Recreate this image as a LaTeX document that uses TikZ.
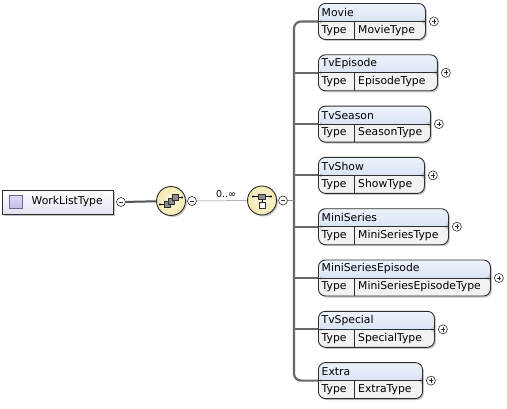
\documentclass[tikz,border=0pt]{standalone}
\usepackage{fontspec}
\setmainfont{DejaVu Sans}
\usetikzlibrary{shadows,calc}
\definecolor{hdrtop}{HTML}{EEF3FB}
\definecolor{hdrbot}{HTML}{C3D4EE}
\definecolor{typefill}{HTML}{F2F2F2}
\definecolor{edgec}{HTML}{2E2E2E}
\definecolor{barc}{HTML}{686868}
\definecolor{compout}{HTML}{F3E9AE}
\definecolor{compin}{HTML}{FCF8E2}
\definecolor{sqgrey}{HTML}{8C8C8C}
\definecolor{lavtop}{HTML}{FFFFFF}
\definecolor{lavbot}{HTML}{E6E2F2}
\definecolor{iconlav}{HTML}{C9BCE9}
\definecolor{iconedge}{HTML}{6F63A0}
\tikzset{
  elem/.style={draw=edgec, line width=0.9pt, rounded corners=7pt, inner sep=0pt,
    minimum height=36pt, anchor=west,
    drop shadow={shadow xshift=1.5pt, shadow yshift=-1.5pt, fill=black!28, opacity=0.8},
    path picture={
      \shade[top color=hdrtop,bottom color=hdrbot]
        (path picture bounding box.north west) rectangle (path picture bounding box.east);
      \fill[typefill] (path picture bounding box.west) rectangle (path picture bounding box.south east);
      \draw[edgec, line width=0.8pt] (path picture bounding box.west) -- (path picture bounding box.east);
      \draw[edgec, line width=0.8pt] ([xshift=36pt]path picture bounding box.south west) -- ([xshift=36pt]path picture bounding box.west);
    }},
  txt/.style={anchor=west, inner sep=0pt, font=\fontsize{10.8}{12}\selectfont, text=black},
  smallcirc/.style={circle, draw=edgec, line width=0.6pt, fill=white, minimum size=9pt, inner sep=0pt},
  pluscirc/.style={smallcirc, path picture={
      \draw[line width=0.6pt] ([xshift=-2.4pt]path picture bounding box.center) -- ([xshift=2.4pt]path picture bounding box.center);
      \draw[line width=0.6pt] ([yshift=-2.4pt]path picture bounding box.center) -- ([yshift=2.4pt]path picture bounding box.center);}},
  minuscirc/.style={smallcirc, path picture={
      \draw[line width=0.6pt] ([xshift=-2.4pt]path picture bounding box.center) -- ([xshift=2.4pt]path picture bounding box.center);}},
  barline/.style={draw=barc, line width=2.2pt},
  thickline/.style={draw=barc!80!black, line width=2pt},
  thinline/.style={draw=black!45, line width=0.5pt},
  comp/.style={circle, draw=edgec, line width=0.9pt, minimum size=29pt, inner sep=0pt,
    inner color=compin, outer color=compout,
    drop shadow={shadow xshift=1.5pt, shadow yshift=-1.5pt, fill=black!28, opacity=0.8}},
  sq/.style={draw=edgec, line width=0.5pt, fill=sqgrey},
  wsq/.style={draw=edgec, line width=0.5pt, fill=white},
  rootbox/.style={draw=edgec, line width=0.9pt, minimum width=111pt, minimum height=24pt, inner sep=0pt,
    top color=lavtop, bottom color=lavbot,
    drop shadow={shadow xshift=2pt, shadow yshift=-2pt, fill=black!30, opacity=0.8}},
  rooticon/.style={draw=iconedge, line width=0.6pt, minimum size=13pt, inner sep=0pt,
    top color=iconlav!60, bottom color=iconlav}
}
\newcommand\xelem[5]{%
  \node[elem, minimum width=#5pt] (#1) at (318,#4) {};
  \node[txt] (#1h) at ([xshift=3.5pt,yshift=9pt]#1.west) {#2};
  \node[txt] (#1t) at ([xshift=3.5pt,yshift=-9pt]#1.west) {Type};
  \node[txt] (#1n) at ([xshift=40pt,yshift=-9pt]#1.west) {#3};
  \node[pluscirc] (#1p) at ([xshift=8pt]#1.east) {};
}
\begin{document}
\begin{tikzpicture}[x=1pt,y=1pt]
\useasboundingbox (0,0) rectangle (507,408);
% root
\node[rootbox] (root) at (57.5,206) {};
\node[rooticon] (rooti) at (15.5,206) {};
\node[txt] (roott) at (31.5,206) {WorkListType};
\node[minuscirc] (rootm) at (121,206) {};
% compositors
\node[comp] (c1) at (171,207) {};
\node[minuscirc] (c1m) at (192,207) {};
\node[comp] (c2) at (262,207.5) {};
\node[minuscirc] (c2m) at (283,207.5) {};
\draw[thickline] (rootm) -- (c1);
\draw[thinline] (c1m) -- (c2);
\node[inner sep=0pt, font=\fontsize{9.5}{11}\selectfont] (card) at (226,214) {0..∞};
% icon in c1
\begin{scope}[shift={(c1.center)}]
  \draw[line width=0.7pt] (-11,-3.5) -- (-7,-3.5);
  \fill (-11,-3.5) circle (1.1pt);
  \draw[line width=0.7pt] (7,3.5) -- (11,3.5);
  \fill (11,3.5) circle (1.1pt);
  \draw[sq] (-7,-6.5) rectangle (-1,-0.5);
  \draw[sq] (-3,-3) rectangle (3,3);
  \draw[sq] (1,0.5) rectangle (7,6.5);
\end{scope}
% icon in c2
\begin{scope}[shift={(c2.center)}]
  \draw[line width=0.7pt] (-9,4) -- (9,4);
  \fill (-9,4) circle (1.1pt);
  \fill (9,4) circle (1.1pt);
  \draw[line width=0.6pt] (0,1.5) -- (0,-2);
  \draw[sq] (-3.5,1.5) rectangle (3.5,6.5);
  \draw[wsq] (-3,-2) rectangle (3,-8);
\end{scope}
% elements
\xelem{m1}{Movie}{MovieType}{386.5}{107}
\xelem{m2}{TvEpisode}{EpisodeType}{335.2}{119}
\xelem{m3}{TvSeason}{SeasonType}{283.9}{112}
\xelem{m4}{TvShow}{ShowType}{232.6}{106}
\xelem{m5}{MiniSeries}{MiniSeriesType}{181.3}{130}
\xelem{m6}{MiniSeriesEpisode}{MiniSeriesEpisodeType}{130}{172}
\xelem{m7}{TvSpecial}{SpecialType}{78.7}{116}
\xelem{m8}{Extra}{ExtraType}{27.4}{104}
% bar
\coordinate (bartop) at (294,386.5);
\coordinate (barbot) at (294,27.4);
\draw[barline, rounded corners=7pt] (m1.west) -- (bartop) -- (barbot) -- (m8.west);
\foreach \k in {m2,m3,m4,m5,m6,m7} {\draw[barline] (\k.west -| bartop) -- (\k.west);}
\draw[thinline, line width=0.8pt] (c2m) -- (c2m -| bartop);
\end{tikzpicture}
\end{document}
